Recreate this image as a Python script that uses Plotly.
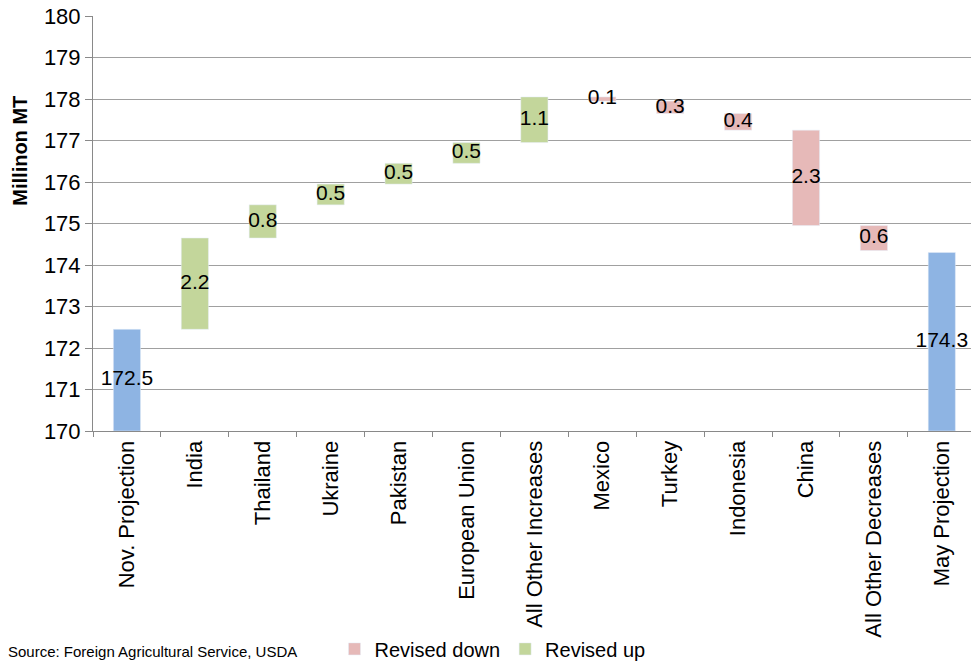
import plotly.graph_objects as go

categories = ["Nov. Projection", "India", "Thailand", "Ukraine", "Pakistan",
              "European Union", "All Other Increases", "Mexico", "Turkey",
              "Indonesia", "China", "All Other Decreases", "May Projection"]
start_value = 172.45
changes = [2.2, 0.8, 0.5, 0.5, 0.5, 1.1, -0.1, -0.3, -0.4, -2.3, -0.6]
end_value = 174.3
labels = ["172.5", "2.2", "0.8", "0.5", "0.5", "0.5", "1.1", "0.1", "0.3",
          "0.4", "2.3", "0.6", "174.3"]

Y_MIN, Y_MAX = 170, 180
BLUE, GREEN, PINK = "#8EB4E3", "#C3D69B", "#E6B9B8"
FONT = "Liberation Sans, Arial, sans-serif"

# compute waterfall segments
level = start_value
up_x, up_b, up_h = [], [], []
dn_x, dn_b, dn_h = [], [], []
centers = [(Y_MIN + start_value) / 2]
for cat, c in zip(categories[1:-1], changes):
    if c >= 0:
        up_x.append(cat); up_b.append(level); up_h.append(c)
    else:
        dn_x.append(cat); dn_b.append(level + c); dn_h.append(-c)
    centers.append(level + c / 2)
    level += c
centers.append((Y_MIN + end_value) / 2)

fig = go.Figure()
fig.add_trace(go.Bar(x=[categories[0], categories[-1]],
                     y=[start_value - Y_MIN, end_value - Y_MIN],
                     base=[Y_MIN, Y_MIN], marker_color=BLUE, width=0.4,
                     showlegend=False, hoverinfo="skip"))
fig.add_trace(go.Bar(x=dn_x, y=dn_h, base=dn_b, marker_color=PINK, width=0.4,
                     name="Revised down"))
fig.add_trace(go.Bar(x=up_x, y=up_h, base=up_b, marker_color=GREEN, width=0.4,
                     name="Revised up"))
fig.add_trace(go.Scatter(x=categories, y=centers, mode="text", text=labels,
                         textfont=dict(family=FONT, size=21, color="black"),
                         showlegend=False, hoverinfo="skip", cliponaxis=False))

fig.update_layout(
    width=971, height=669,
    margin=dict(l=93, r=0, t=16, b=234),
    paper_bgcolor="white", plot_bgcolor="white",
    barmode="overlay",
    font=dict(family=FONT, size=22, color="black"),
    legend=dict(orientation="h", x=0.455, xanchor="center", y=-0.525,
                yanchor="middle", font=dict(size=20), traceorder="normal",
                itemwidth=30, bgcolor="rgba(0,0,0,0)"),
    xaxis=dict(type="category", categoryorder="array", categoryarray=categories,
               range=[-0.5, 12.43], tickangle=-90, tickson="boundaries",
               ticks="outside", ticklen=5, tickcolor="#898989",
               showline=True, linecolor="#898989", linewidth=1,
               showgrid=False, tickfont=dict(size=22)),
    yaxis=dict(range=[Y_MIN, Y_MAX], dtick=1, ticks="outside", ticklen=7,
               tickcolor="#898989", showline=True, linecolor="#898989",
               gridcolor="#a0a0a0", gridwidth=1, tickfont=dict(size=22)),
    annotations=[
        dict(text="<b>Millinon MT</b>", xref="paper", yref="paper",
             x=-73 / 878, y=(435 - 152) / 419, xanchor="center",
             yanchor="middle", textangle=-90, showarrow=False,
             font=dict(size=20)),
        dict(text="Source: Foreign Agricultural Service, USDA",
             xref="paper", yref="paper", x=-87 / 878, y=-(668 - 435) / 419,
             xanchor="left", yanchor="bottom", showarrow=False,
             font=dict(size=15)),
    ],
)

fig.write_html("out.html")
